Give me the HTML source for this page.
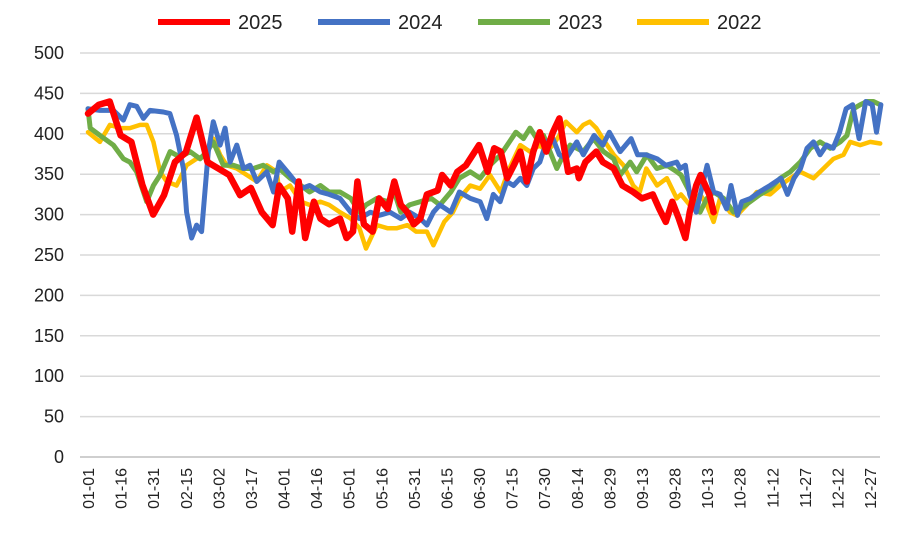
<!DOCTYPE html>
<html><head><meta charset="utf-8"><style>
body{margin:0;background:#fff;font-family:"Liberation Sans",Arial,sans-serif}
svg{display:block}
</style></head><body>
<svg id="c" width="900" height="545"></svg>
<script>
const xTicks=["01-01","01-16","01-31","02-15","03-02","03-17","04-01","04-16","05-01","05-16","05-31","06-15","06-30","07-15","07-30","08-14","08-29","09-13","09-28","10-13","10-28","11-12","11-27","12-12","12-27"];
const yTicks=[0,50,100,150,200,250,300,350,400,450,500];
const seriesNames=["2025","2024","2023","2022"];
const d2025=[0,5,10,15,20,25,30,35,40,45,50,55,60,65,70,75,80,85,88,92,94,97,100,104,107,111,116,119,122,124,127,131,134,138,141,144,147,150,153,156,161,163,167,170,174,180,184,187,190,193,196,199,202,205,208,211,214,217,219,221,225,226,229,234,237,242,246,251,255,260,263,266,269,272,275,277,280,282,286,288];
const v2025=[425,436,440,398,390,337,300,324,365,377,420,365,357,349,324,333,303,287,336,320,279,341,271,316,295,288,295,271,279,341,288,279,320,307,341,312,303,288,295,325,330,349,336,353,361,386,353,382,378,345,361,378,341,378,402,378,402,419,386,353,357,345,365,378,365,357,336,328,320,325,307,291,316,295,271,303,336,349,325,303];
const d2024=[0,5.5,11.7,16.3,19.3,22.4,25.5,28.5,34.7,37.7,40.8,43.9,45.4,47.7,50,52.3,55.4,57.7,60.8,63.1,65.4,68.5,71.6,74.6,77.7,82.3,85.4,88,93,98,102,107,111,116,121,125,130,134,139,144,148,153,156,159,162,167,171,176,180.5,183.6,186.6,189.7,192.8,195.9,199,202,205,208,211,214,217,220,225,228,233,237,240,245,250,253,257,262,266,271,272.6,275,277,280,285,288,291,294,296,299,301,305,309,314,319,322,325,328,331,334,337,340,343,346,349,352,355,358,361,363,365];
const v2024=[431,429,429,417,436,434,419,429,427,425,398,357,303,271,287,279,378,415,386,407,365,386,357,361,341,353,328,365,349,332,336,328,325,320,303,295,303,299,303,295,303,295,287,303,312,303,328,320,316,295,325,316,341,336,345,336,357,365,390,394,374,369,390,374,398,386,402,378,394,374,374,369,361,365,357,361,325,303,361,328,325,307,336,299,316,320,328,336,345,325,345,357,382,390,374,386,382,402,431,436,394,440,436,402,436];
const d2023=[0,1,5.5,11.7,16.3,19.3,22.4,27,30.1,33.2,37.8,42.4,47,51.6,54.7,57.7,62.3,66.9,71.5,76.1,80.7,85.4,88,93,98,102,107,111,116,121,125,128,133,138,141,144,148,153,158,162,167,171,176,180.5,185,190,194,197,200.5,203.5,206.6,209.7,212.7,215.8,218.9,222,225,228,232.7,237.3,242,245,249.6,252.6,257.3,261.9,266.5,271.1,273,277,281.8,284.9,288,292.6,297.2,300.2,304.8,309.4,314,318.7,323.3,327.9,332.5,337,341.7,346.3,349.4,352.4,355.5,358.6,361.6,364.7];
const v2023=[431,407,398,386,369,365,353,316,336,349,378,371,378,369,378,390,361,361,357,357,361,353,357,345,336,328,336,328,328,320,303,312,320,316,328,303,312,316,320,312,328,345,353,345,361,374,390,402,394,407,394,398,378,357,374,386,382,378,394,378,369,349,365,353,374,357,361,353,349,328,303,320,328,320,303,307,316,325,332,345,353,365,382,390,382,390,398,431,436,440,440,436];
const d2022=[0,5.5,10.1,14.7,19.3,24,27,30.1,33.2,36.2,40.8,45.4,50,54.7,57.7,60.8,63.9,68.5,73.1,77.7,82.3,86.9,88,93,98,102,107,111,116,121,125,128,133,138,142,147,151,156,159,164,168,171,176,180.5,185,190,194,199,203.5,208,211,214,217,220,225,228,231,234,237,242,246.5,251,254,257,262,266.5,271,273,277,281.8,284.9,288,291,295.6,298.7,303.3,307.9,314,318.7,323.3,327.9,334,338.6,343.2,347.8,350.9,355.5,360.1,364.7];
const v2022=[402,390,411,407,407,411,411,390,353,341,336,361,369,374,394,374,361,357,349,341,361,353,328,336,316,312,316,312,303,295,283,258,287,283,283,287,279,279,262,291,303,320,336,332,349,328,357,386,378,386,378,386,398,415,402,411,415,407,394,374,361,336,328,357,336,345,320,325,312,325,312,291,320,303,299,312,328,325,336,345,353,345,357,369,374,390,386,390,388];
const allDays=[d2025,d2024,d2023,d2022];
const allVals=[v2025,v2024,v2023,v2022];
const colors=["#ff0000","#4472c4","#70ad47","#ffc000"];
const widths=[6.5,5,5,4.5];
const NS="http://www.w3.org/2000/svg";
const svg=document.getElementById('c');
const X0=88,XSTEP=782/360,Y0=457,YS=404/500;
const xs=d=>X0+d*XSTEP, ys=v=>Y0-v*YS;
function el(t,a,p){const e=document.createElementNS(NS,t);for(const k in a)e.setAttribute(k,a[k]);(p||svg).appendChild(e);return e;}
yTicks.forEach(t=>{
  if(t>0){const g=el('line',{x1:80,x2:880,y1:ys(t),y2:ys(t),stroke:'#d9d9d9','stroke-width':1.5});
  
  }
  const tx=el('text',{x:64,y:ys(t)+6,'text-anchor':'end','font-size':18,fill:'#222'});tx.textContent=t;
  
  
});
const ax=el('line',{x1:80,x2:880,y1:Y0,y2:Y0,stroke:'#bfbfbf','stroke-width':1.5});


xTicks.forEach((t,i)=>{
  const x=xs(i*15);
  const tx=el('text',{x:0,y:0,'text-anchor':'end','font-size':16,fill:'#222',transform:`translate(${x+6},468) rotate(-90)`});tx.textContent=t;
  
  
});
[3,2,1,0].forEach(s=>{
  const v=allVals[s],dd=allDays[s];
  const pts=v.map((val,i)=>xs(dd[i]).toFixed(1)+','+ys(val).toFixed(1)).join(' ');
  const p=el('polyline',{points:pts,fill:'none',stroke:colors[s],'stroke-width':widths[s],'stroke-linejoin':'round','stroke-linecap':'round'});
  
  
});
const lx=[158,318,478,637];
seriesNames.forEach((n,i)=>{
  const g=el('g',{});
  
  
  el('line',{x1:lx[i],x2:lx[i]+72,y1:22,y2:22,stroke:colors[i],'stroke-width':6},g);
  const t=el('text',{x:lx[i]+80,y:29,'font-size':20,fill:'#222'},g);t.textContent=n;
});
</script>
</body></html>
